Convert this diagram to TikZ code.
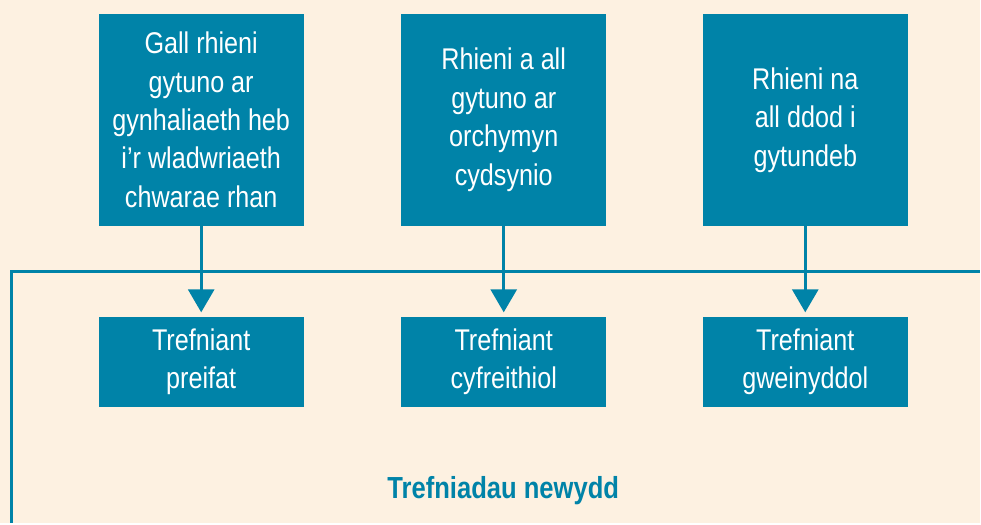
\documentclass[tikz,border=0pt]{standalone}
\usepackage{fontspec}
\setmainfont{Liberation Sans}[FakeStretch=0.84]
\usetikzlibrary{arrows.meta,positioning}
\definecolor{glas}{RGB}{0,131,168}
\definecolor{cefndir}{RGB}{253,241,225}
\begin{document}
\begin{tikzpicture}[x=1pt,y=-1pt,
	blwch/.style={fill=glas,text=white,align=center,inner sep=0pt,minimum width=205pt,font=\fontsize{30}{38.5}\selectfont},
	uchaf/.style={blwch,minimum height=212pt},
	isaf/.style={blwch,minimum height=91pt},
	saeth/.style={draw=glas,line width=3pt,-{Triangle[length=23pt,width=26pt]},shorten >=4pt},
	ffram/.style={draw=glas,line width=3pt}]
		% Cefndir
		\fill[cefndir] (0,0) rectangle (981,524);
		% Blychau uchaf
		\node[uchaf] (gall) at (201.5,120) {Gall rhieni\\gytuno ar\\gynhaliaeth heb\\i’r wladwriaeth\\chwarae rhan};
		\node[uchaf] (cyd) at (504.5,120) {Rhieni a all\\gytuno ar\\orchymyn\\cydsynio};
		\node[uchaf] (methu) at (806.5,120) {Rhieni na\\all ddod i\\gytundeb};
		% Blychau isaf
		\node[isaf] (preifat) at (201.5,362.5) {Trefniant\\preifat};
		\node[isaf] (cyfr) at (504.5,362.5) {Trefniant\\cyfreithiol};
		\node[isaf] (gwein) at (806.5,362.5) {Trefniant\\gweinyddol};
		% Ffram
		\coordinate (ff1) at (981,272);
		\coordinate (ff2) at (12,272);
		\coordinate (ff3) at (12,524);
		\draw[ffram] (ff1) -- (ff2) -- (ff3);
		\node[text=glas,font=\fontsize{30.5}{34}\selectfont\bfseries] (teitl) at (504,491) {Trefniadau newydd};
		% Saethau
		\draw[saeth] (gall) -- (preifat);
		\draw[saeth] (cyd) -- (cyfr);
		\draw[saeth] (methu) -- (gwein);
	\end{tikzpicture}
\end{document}
